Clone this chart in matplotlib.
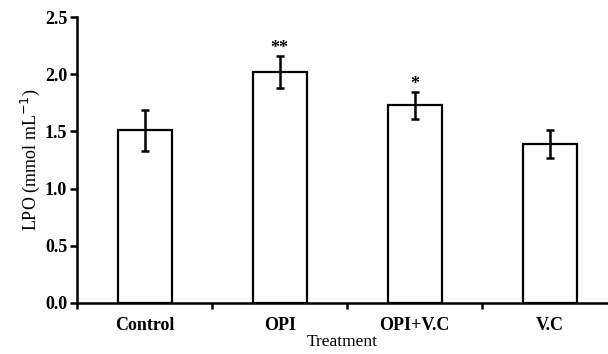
import matplotlib.pyplot as plt
import numpy as np

# data
groups = ['Control', 'OPI', 'OPI+V.C', 'V.C']
lpo = [1.51, 2.02, 1.73, 1.39]
err = [0.18, 0.14, 0.12, 0.12]
marks = ['', '**', '*', '']

plt.rcParams['font.family'] = ['Liberation Serif', 'DejaVu Serif']

fig = plt.figure(figsize=(6.08, 3.54), dpi=100)
ax = fig.add_axes([0.1266, 0.145, 0.8734, 0.806])

x = np.arange(len(groups))
ax.bar(x, lpo, width=0.40, color='white', edgecolor='black', linewidth=1.6, zorder=2)
ax.errorbar(x, lpo, yerr=err, fmt='none', ecolor='black', elinewidth=1.8,
            capsize=2.6, capthick=1.8, zorder=3)

for xi, v, e, m in zip(x, lpo, err, marks):
    if m:
        ax.text(xi, v + e - 0.01, m, ha='center', va='bottom',
                fontsize=13, fontweight='bold')

ax.set_xlim(-0.5, 3.43)
ax.set_ylim(0, 2.5)
ax.set_yticks(np.arange(0, 2.51, 0.5))
ax.set_yticklabels([f'{v:.1f}' for v in np.arange(0, 2.51, 0.5)],
                   fontsize=13, fontweight='bold')
ax.set_xticks(x)
ax.set_xticklabels(groups, fontsize=13, fontweight='bold')
ax.set_xticks(np.arange(-0.5, 3.5, 1.0), minor=True)
ax.tick_params(axis='x', which='major', length=0, pad=10)
ax.tick_params(axis='x', which='minor', length=4, width=1.8, direction='out')
ax.tick_params(axis='y', length=5, width=1.8, direction='out', pad=2)

for s in ['top', 'right']:
    ax.spines[s].set_visible(False)
for s in ['left', 'bottom']:
    ax.spines[s].set_linewidth(1.8)

ax.set_ylabel('LPO (mmol mL$^{-1}$)', fontsize=13, labelpad=2)
ax.set_xlabel('Treatment', fontsize=12.5, labelpad=0)

plt.savefig('out.png', dpi=100)
